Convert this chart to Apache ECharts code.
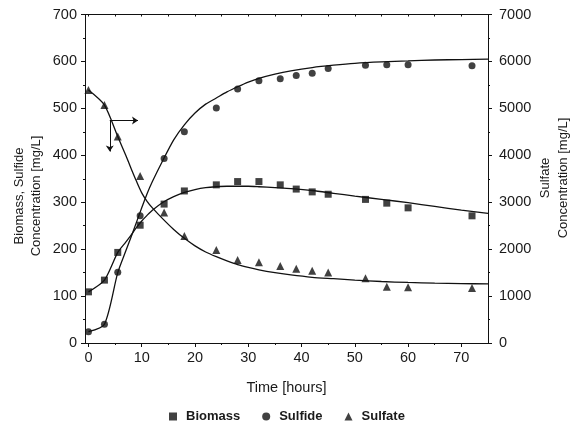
<!DOCTYPE html>
<html>
<head>
<meta charset="utf-8">
<script src="https://cdn.jsdelivr.net/npm/echarts@6/dist/echarts.min.js"></script>
<style>
  html, body { margin: 0; padding: 0; background: #fff; }
  #chart { width: 570px; height: 428px; }
</style>
</head>
<body>
<div id="chart"></div>
<script>
const FONT = '"Liberation Sans", Arial, sans-serif'
const INK = '#111'

// measured samples (hours)
const sampleTime = [0, 3, 5.5, 9.7, 14.2, 18, 24, 28, 32, 36, 39, 42, 45, 52, 56, 60, 72]
const biomass = [109, 134, 193, 251, 296, 324, 337, 344, 344, 337, 328, 322, 317, 306, 298, 288, 271]
const sulfide = [24, 40, 151, 271, 393, 450, 501, 541, 559, 563, 570, 575, 585, 592, 593, 593, 591]
const sulfate = [5390, 5070, 4400, 3560, 2780, 2280, 1980, 1770, 1720, 1640, 1580, 1540, 1500, 1380, 1200, 1190, 1170]

// model curves
const fitTime = [0, 3, 5.5, 7, 8, 9, 10, 11, 12, 14, 16, 18, 20, 22, 24, 26, 28, 30, 32, 35, 38, 42, 46, 50, 55, 60, 65, 70, 75]
const biomassFit = [109, 134, 193, 215, 230, 246, 260, 272, 283, 300, 312, 321, 327, 331, 333, 334, 334, 334, 333, 331, 329, 325, 319, 313, 306, 299, 291, 283, 276]
const sulfideFit = [24, 40, 150, 196, 226, 257, 288, 318, 344, 390, 433, 465, 490, 509, 522, 535, 546, 556, 564, 573, 580, 587, 592, 596, 599, 601, 603, 604, 605]
const sulfateFit = [5390, 5070, 4400, 4000, 3720, 3450, 3200, 3020, 2880, 2640, 2420, 2230, 2070, 1940, 1840, 1750, 1670, 1610, 1560, 1500, 1450, 1400, 1370, 1340, 1310, 1290, 1275, 1265, 1260]

// tick values
const xMajor = [0, 10, 20, 30, 40, 50, 60, 70]
const xMinor = [5, 15, 25, 35, 45, 55, 65]
const xTop = [0, 5, 10, 15, 20, 25, 30, 35, 40, 45, 50, 55, 60, 65, 70, 75]
const leftMinor = [50, 150, 250, 350, 450, 550, 650]
const rightMinor = [500, 1500, 2500, 3500, 4500, 5500, 6500]

// arrow annotation (right-axis units)
const arrowStart = [4, 4740]
const arrowRight = [9.3, 4740]
const arrowDown = [4, 4080]

const zip = (xs, ys) => xs.map((x, i) => [x, ys[i]])

const axisLine = { show: true, onZero: false, lineStyle: { color: INK, width: 1 } }
const noLine = { show: false, onZero: false }
const tickLabel = { color: '#1a1a1a', fontSize: 14.5, fontFamily: FONT }

function xAxisBase(extra) {
  return Object.assign({
    type: 'value', min: -0.65, max: 75,
    splitLine: { show: false },
    axisLine: noLine,
    axisLabel: { show: false },
    axisTick: { show: false },
  }, extra)
}

function yAxisBase(extra) {
  return Object.assign({
    type: 'value',
    splitLine: { show: false },
    axisLine: noLine,
    axisLabel: { show: false },
    axisTick: { show: false },
  }, extra)
}

function fitSeries(name, data, yIndex) {
  return {
    name: name, type: 'line', data: data, yAxisIndex: yIndex,
    showSymbol: false, smooth: 0.25, silent: true,
    lineStyle: { color: INK, width: 1.3 },
    z: 2,
  }
}

function markSeries(name, data, symbol, size, yIndex) {
  return {
    name: name, type: 'scatter', data: data, yAxisIndex: yIndex,
    symbol: symbol, symbolSize: size,
    itemStyle: { color: INK },
    z: 3,
  }
}

const chart = echarts.init(document.getElementById('chart'), null, { renderer: 'canvas' })

const sulfateCurve = fitSeries('Sulfate fit', zip(fitTime, sulfateFit), 1)
sulfateCurve.markLine = {
  silent: true,
  symbol: ['none', 'arrow'],
  symbolSize: 6,
  label: { show: false },
  lineStyle: { color: INK, width: 1, type: 'solid' },
  data: [
    [{ coord: arrowStart }, { coord: arrowRight }],
    [{ coord: arrowStart }, { coord: arrowDown }],
  ],
}

chart.setOption({
  animation: false,
  backgroundColor: '#fff',
  textStyle: { fontFamily: FONT },
  grid: { left: 85, right: 82, top: 14.5, bottom: 85 },
  xAxis: [
    xAxisBase({
      position: 'bottom',
      axisLine: axisLine,
      axisTick: { show: true, length: 4, customValues: xMajor, lineStyle: { color: INK } },
      axisLabel: Object.assign({ show: true, margin: 7, customValues: xMajor }, tickLabel),
      name: 'Time [hours]',
      nameLocation: 'middle',
      nameGap: 37,
      nameTextStyle: { color: '#1a1a1a', fontSize: 14.5, fontFamily: FONT },
    }),
    xAxisBase({
      position: 'bottom',
      axisTick: { show: true, length: 2, customValues: xMinor, lineStyle: { color: INK } },
    }),
    xAxisBase({
      position: 'top',
      axisLine: axisLine,
      axisTick: { show: true, inside: true, length: 2, customValues: xTop, lineStyle: { color: INK } },
    }),
  ],
  yAxis: [
    yAxisBase({
      position: 'left', min: 0, max: 700, interval: 100,
      axisLine: axisLine,
      axisTick: { show: true, length: 4, lineStyle: { color: INK } },
      axisLabel: Object.assign({ show: true, margin: 8 }, tickLabel),
    }),
    yAxisBase({
      position: 'right', min: 0, max: 7000, interval: 1000,
      axisLine: axisLine,
      axisTick: { show: true, length: 4, lineStyle: { color: INK } },
      axisLabel: Object.assign({ show: true, margin: 11, formatter: (v) => String(v) }, tickLabel),
    }),
    yAxisBase({
      position: 'left', min: 0, max: 700,
      axisTick: { show: true, length: 2, customValues: leftMinor, lineStyle: { color: INK } },
    }),
    yAxisBase({
      position: 'right', min: 0, max: 7000,
      axisTick: { show: true, length: 2, customValues: rightMinor, lineStyle: { color: INK } },
    }),
  ],
  legend: {
    left: 164, top: 405,
    itemWidth: 8, itemHeight: 8, itemGap: 22,
    textStyle: { color: '#1a1a1a', fontSize: 13, fontWeight: 'bold', fontFamily: FONT, padding: [0, 0, 0, 4] },
    data: [
      { name: 'Biomass', icon: 'rect' },
      { name: 'Sulfide', icon: 'circle' },
      { name: 'Sulfate', icon: 'triangle' },
    ],
  },
  graphic: [
    { type: 'text', x: 19, y: 196, rotation: Math.PI / 2,
      style: { text: 'Biomass, Sulfide', font: '13px ' + FONT, fill: '#1a1a1a', align: 'center', verticalAlign: 'middle' } },
    { type: 'text', x: 36, y: 196, rotation: Math.PI / 2,
      style: { text: 'Concentration [mg/L]', font: '13px ' + FONT, fill: '#1a1a1a', align: 'center', verticalAlign: 'middle' } },
    { type: 'text', x: 545, y: 178, rotation: Math.PI / 2,
      style: { text: 'Sulfate', font: '13px ' + FONT, fill: '#1a1a1a', align: 'center', verticalAlign: 'middle' } },
    { type: 'text', x: 563, y: 178, rotation: Math.PI / 2,
      style: { text: 'Concentration [mg/L]', font: '13px ' + FONT, fill: '#1a1a1a', align: 'center', verticalAlign: 'middle' } },
  ],
  series: [
    fitSeries('Biomass fit', zip(fitTime, biomassFit), 0),
    fitSeries('Sulfide fit', zip(fitTime, sulfideFit), 0),
    sulfateCurve,
    markSeries('Biomass', zip(sampleTime, biomass), 'rect', 7, 0),
    markSeries('Sulfide', zip(sampleTime, sulfide), 'circle', 7, 0),
    markSeries('Sulfate', zip(sampleTime, sulfate), 'triangle', 8, 1),
  ],
})
</script>
</body>
</html>
